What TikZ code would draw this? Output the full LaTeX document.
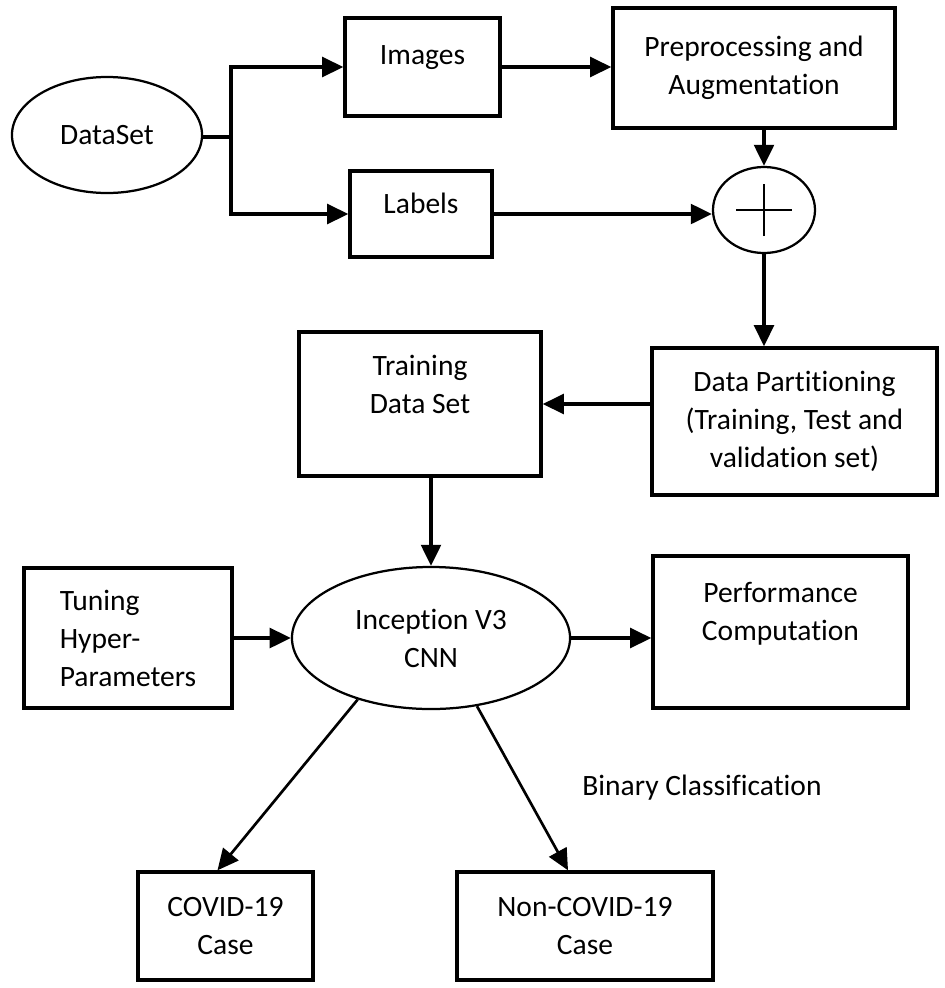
\documentclass[tikz,border=0pt]{standalone}
\usepackage{fontspec}
\setmainfont{Carlito}[Ligatures=NoCommon]
\usepackage{tikz}
\usetikzlibrary{arrows.meta,shapes.geometric}
\tikzset{
    block/.style={draw, line width=2.4pt, align=center, inner sep=2pt},
    oval/.style={draw, ellipse, line width=1.6pt, align=center, inner sep=1pt},
    link/.style={line width=2.5pt},
    flow/.style={line width=2.5pt, -{Triangle[length=15pt, width=14pt]}}
}

\begin{document}
\begin{tikzpicture}[x=0.025cm, y=-0.025cm, font=\fontsize{21}{27}\selectfont]
    \useasboundingbox (0,0) rectangle (945,988);
    \node[oval, minimum width=4.75cm, minimum height=2.9cm] (dataset) at (107,135) {DataSet};
    \node[block, minimum width=3.875cm, minimum height=2.45cm, text depth=17pt] (images) at (422.5,67) {Images};
    \node[block, minimum width=3.55cm, minimum height=2.15cm, text depth=15.5pt] (labels) at (421,214) {Labels};
    \node[block, minimum width=7.05cm, minimum height=3cm] (prep) at (754,68) {Preprocessing and\\Augmentation};
    \node[oval, minimum width=2.55cm, minimum height=2.15cm] (sum) at (764,210) {};
    \node[block, minimum width=7.125cm, minimum height=3.675cm] (part) at (794.5,421.5) {Data Partitioning\\(Training, Test and\\validation set)};
    \node[block, minimum width=6.05cm, minimum height=3.6cm, text depth=28pt] (train) at (420,404) {Training\\Data Set};
    \node[block, minimum width=5.2cm, minimum height=3.5cm, align=left] (tune) at (128,638) {Tuning\\Hyper-\\Parameters};
    \node[oval, minimum width=6.95cm, minimum height=3.55cm] (incep) at (431,638) {Inception V3\\CNN};
    \node[block, minimum width=6.375cm, minimum height=3.8cm, text depth=29pt] (perf) at (780.5,632) {Performance\\Computation};
    \node[block, minimum width=4.375cm, minimum height=2.7cm] (covid) at (225.5,926) {COVID-19\\Case};
    \node[block, minimum width=6.4cm, minimum height=2.7cm] (noncovid) at (585,926) {Non-COVID-19\\Case};
    \node (binary) at (702,788) {Binary Classification};

    \draw[line width=1.4pt] ([xshift=-0.69cm]sum.center) -- ([xshift=0.69cm]sum.center);
    \draw[line width=1.4pt] ([yshift=-0.65cm]sum.center) -- ([yshift=0.65cm]sum.center);

    \coordinate (fork) at (231,137);
    \draw[link] (dataset.east |- fork) -- (fork);
    \draw[flow] (fork) |- (images.west);
    \draw[flow] (fork) |- (labels.west);
    \draw[flow] (images.east) -- (images.east -| prep.west);
    \draw[flow] (labels.east) -- (labels.east -| sum.west);
    \draw[flow] (sum.north |- prep.south) -- (sum.north);
    \draw[flow] (sum.south) -- (sum.south |- part.north);
    \draw[flow] (train.east -| part.west) -- (train.east);
    \draw[flow] (incep.north |- train.south) -- (incep.north);
    \draw[flow] (tune.east) -- (incep.west);
    \draw[flow] (incep.east) -- (incep.east -| perf.west);
    \draw[flow, line width=1.9pt] (incep.220) -- ([xshift=-0.2cm]covid.north);
    \draw[flow, line width=1.9pt] (incep.304) -- ([xshift=-0.425cm]noncovid.north);
\end{tikzpicture}
\end{document}
